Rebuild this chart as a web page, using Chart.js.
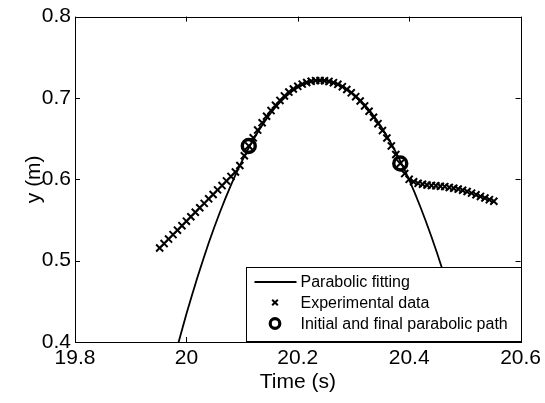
<!DOCTYPE html>
<html>
<head>
<meta charset="utf-8">
<script src="https://cdn.jsdelivr.net/npm/chart.js@4/dist/chart.umd.min.js"></script>
<style>
html,body{margin:0;padding:0;background:#fff;}
#wrap{width:545px;height:403px;}
</style>
</head>
<body>
<div id="wrap"><canvas id="c" width="545" height="403"></canvas></div>
<script>
// Experimental data: time (s) and vertical position (m)
const expTime = [19.952,19.960,19.968,19.976,19.984,19.992,20.000,20.008,20.016,20.024,
  20.032,20.040,20.048,20.056,20.064,20.072,20.080,20.088,20.096,20.104,
  20.112,20.120,20.128,20.136,20.144,20.152,20.160,20.168,20.176,20.184,
  20.192,20.200,20.208,20.216,20.224,20.232,20.240,20.248,20.256,20.264,
  20.272,20.280,20.288,20.296,20.304,20.312,20.320,20.328,20.336,20.344,
  20.352,20.360,20.368,20.376,20.384,20.392,20.400,20.408,20.416,20.424,
  20.432,20.440,20.448,20.456,20.464,20.472,20.480,20.488,20.496,20.504,
  20.512,20.520,20.528,20.536,20.544,20.552];
const expY = [0.5155,0.521,0.5265,0.532,0.5375,0.543,0.5485,0.554,0.5595,0.565,
  0.5704,0.576,0.5813,0.587,0.5923,0.598,0.6035,0.609,0.617,0.629,
  0.641,0.651,0.6605,0.6695,0.6775,0.6845,0.691,0.697,0.7025,0.7072,
  0.711,0.7143,0.717,0.719,0.7205,0.7213,0.7215,0.7212,0.7203,0.7188,
  0.7167,0.7139,0.7104,0.7063,0.7016,0.6962,0.6902,0.6836,0.6763,0.6684,
  0.6599,0.6508,0.641,0.6305,0.6195,0.607,0.600,0.597,0.595,0.594,
  0.593,0.5925,0.592,0.5915,0.591,0.590,0.589,0.588,0.5865,0.585,
  0.583,0.581,0.579,0.577,0.575,0.573];
// Parabolic fitting curve
const fitTime = [19.975,20.00,20.02,20.04,20.06,20.08,20.10,20.12,20.14,20.16,20.18,20.20,20.22,20.24,
  20.26,20.28,20.30,20.32,20.34,20.36,20.38,20.40,20.42,20.44,20.46,20.48,20.50,20.52];
const fitY = [0.3722,0.4345,0.4800,0.5216,0.5592,0.5929,0.6227,0.6486,0.6705,0.6886,0.7027,0.7129,0.7191,0.7215,
  0.7199,0.7144,0.7050,0.6917,0.6744,0.6533,0.6282,0.5992,0.5663,0.5294,0.4886,0.4439,0.3953,0.3428];
// Initial and final points of the parabolic path
const pathTime = [20.112, 20.384];
const pathY = [0.641, 0.6195];
// Axis ticks
const xTickValues = [19.8, 20.0, 20.2, 20.4, 20.6];
const yTickValues = [0.4, 0.5, 0.6, 0.7, 0.8];
const seriesNames = ['Parabolic fitting', 'Experimental data', 'Initial and final parabolic path'];

const FONT = 'Liberation Sans, Arial, Helvetica, sans-serif';
const fmt = v => String(parseFloat(Number(v).toFixed(1)));

const boxAndTicks = {
  id: 'boxAndTicks',
  afterDatasetsDraw(chart) {
    const ctx = chart.ctx, a = chart.chartArea;
    const xs = chart.scales.x, ys = chart.scales.y;
    ctx.save();
    ctx.strokeStyle = '#000';
    ctx.lineWidth = 1;
    const L = 5;
    ctx.beginPath();
    xTickValues.forEach(v => {
      const px = Math.round(xs.getPixelForValue(v)) + 0.5;
      ctx.moveTo(px, a.bottom); ctx.lineTo(px, a.bottom - L);
      ctx.moveTo(px, a.top); ctx.lineTo(px, a.top + L);
    });
    yTickValues.forEach(v => {
      const py = Math.round(ys.getPixelForValue(v)) + 0.5;
      ctx.moveTo(a.left, py); ctx.lineTo(a.left + L, py);
      ctx.moveTo(a.right, py); ctx.lineTo(a.right - L, py);
    });
    ctx.stroke();
    ctx.strokeRect(Math.round(a.left) + 0.5, Math.round(a.top) + 0.5,
      Math.round(a.right - a.left), Math.round(a.bottom - a.top));

    // legend box
    const w = 275, h = 74;
    const bx = Math.round(a.right) - w + 0.5, by = Math.round(a.bottom) - 1 - h + 0.5;
    ctx.fillStyle = '#fff';
    ctx.fillRect(bx, by, w, h);
    ctx.strokeStyle = '#000';
    ctx.lineWidth = 1;
    ctx.strokeRect(bx, by, w, h);
    const rows = [by + 14.5, by + 35, by + 56];
    ctx.font = '16px ' + FONT;
    ctx.fillStyle = '#000';
    ctx.textBaseline = 'middle';
    ctx.textAlign = 'left';
    ctx.lineWidth = 2;
    ctx.beginPath();
    ctx.moveTo(bx + 8, rows[0]); ctx.lineTo(bx + 50, rows[0]);
    ctx.stroke();
    Chart.helpers.drawPoint(ctx, {pointStyle: 'crossRot', radius: 4, borderWidth: 2, borderColor: '#000'}, bx + 28.5, rows[1]);
    ctx.strokeStyle = '#000'; ctx.lineWidth = 3.2;
    ctx.beginPath(); ctx.arc(bx + 28.5, rows[2], 4.8, 0, Math.PI * 2); ctx.stroke();
    ctx.fillStyle = '#000';
    for (let i = 0; i < 3; i++) ctx.fillText(seriesNames[i], bx + 54, rows[i] + 1);
    ctx.restore();
  }
};

new Chart(document.getElementById('c'), {
  type: 'scatter',
  data: {
    datasets: [
      {
        label: seriesNames[2],
        data: pathTime.map((t, i) => ({x: t, y: pathY[i]})),
        pointStyle: 'circle', pointRadius: 6.5, borderWidth: 3.4,
        borderColor: '#000', backgroundColor: 'rgba(0,0,0,0)', order: 0
      },
      {
        label: seriesNames[1],
        data: expTime.map((t, i) => ({x: t, y: expY[i]})),
        pointStyle: 'crossRot', pointRadius: 5, borderWidth: 2,
        borderColor: '#000', backgroundColor: '#000', order: 1
      },
      {
        label: seriesNames[0],
        data: fitTime.map((t, i) => ({x: t, y: fitY[i]})),
        showLine: true, pointRadius: 0, borderWidth: 1.8, tension: 0.2,
        borderColor: '#000', order: 2
      }
    ]
  },
  options: {
    responsive: false,
    animation: false,
    devicePixelRatio: 1,
    layout: {padding: {top: 10, right: 22, left: 0, bottom: 0}},
    plugins: {legend: {display: false}, tooltip: {enabled: false}},
    scales: {
      x: {
        type: 'linear', min: 19.8, max: 20.6,
        afterFit: s => { s.height = 61; },
        afterBuildTicks: s => { s.ticks = xTickValues.map(v => ({value: v})); },
        grid: {display: false, drawTicks: false},
        border: {display: false},
        ticks: {color: '#000', padding: 4, font: {family: FONT, size: 21}, callback: v => fmt(v), maxRotation: 0, autoSkip: false},
        title: {display: true, text: 'Time (s)', color: '#000', font: {family: FONT, size: 21}, padding: {top: 0, bottom: 8}}
      },
      y: {
        type: 'linear', min: 0.4, max: 0.8,
        afterFit: s => { s.width = 75; },
        afterBuildTicks: s => { s.ticks = yTickValues.map(v => ({value: v})); },
        grid: {display: false, drawTicks: false},
        border: {display: false},
        ticks: {color: '#000', padding: 4, font: {family: FONT, size: 21}, callback: v => fmt(v), autoSkip: false},
        title: {display: true, text: 'y (m)', color: '#000', font: {family: FONT, size: 21}, padding: {top: 22, bottom: 0}}
      }
    }
  },
  plugins: [boxAndTicks]
});
</script>
</body>
</html>
